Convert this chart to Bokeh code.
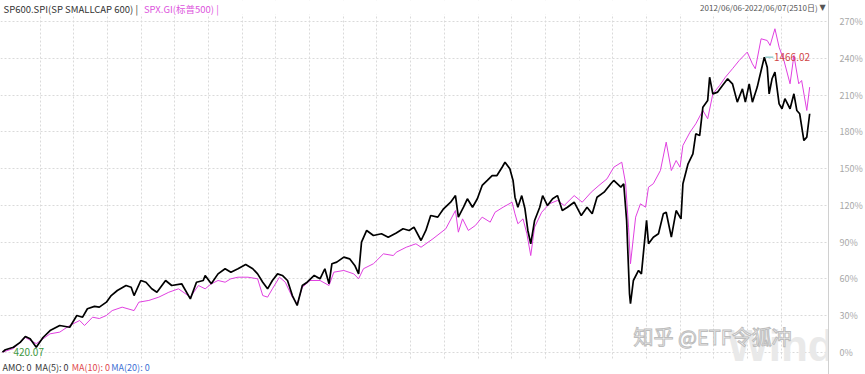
from bokeh.plotting import figure
from bokeh.models import Range1d, FixedTicker, PrintfTickFormatter, Label, BoxAnnotation
from bokeh.embed import file_html
from bokeh.resources import INLINE

# trading-day index (0 = 2012/06/06 ... 2509 = 2022/06/07), cumulative change in %
sp600_day = [0, 9, 34, 55, 71, 86, 105, 126, 148, 178, 209, 231, 249, 264, 286, 301, 323, 338, 357, 384,
             400, 409, 430, 446, 464, 480, 507, 526, 557, 584, 603, 624, 630, 649, 670, 692, 710, 732, 756, 778,
             793, 809, 824, 839, 855, 870, 886, 901, 916, 932, 947, 969, 987, 1002, 1015, 1024, 1039, 1061, 1079, 1095,
             1107, 1116, 1132, 1153, 1178, 1199, 1224, 1245, 1264, 1279, 1301, 1316, 1331, 1353, 1371, 1393, 1408, 1417, 1433, 1445,
             1461, 1476, 1491, 1507, 1522, 1537, 1553, 1562, 1577, 1587, 1593, 1602, 1614, 1624, 1633, 1642, 1654, 1670, 1679, 1694,
             1710, 1725, 1740, 1756, 1777, 1799, 1817, 1833, 1848, 1870, 1891, 1900, 1922, 1931, 1940, 1949, 1952, 1961, 1977, 1986,
             2002, 2008, 2023, 2039, 2054, 2063, 2079, 2094, 2109, 2115, 2131, 2146, 2155, 2167, 2177, 2192, 2198, 2208, 2223, 2238,
             2254, 2269, 2284, 2300, 2309, 2321, 2331, 2346, 2352, 2368, 2377, 2383, 2392, 2401, 2414, 2423, 2432, 2448, 2460, 2469,
             2478, 2491, 2500, 2509]
sp600_pct = [0, 2, 4, 8, 12.8, 11, 4, 12, 17.7, 21.8, 20.4, 30, 28.6, 35.5, 37.4, 36.8, 40.9, 46.3, 50.4, 54.5,
             53.1, 46.3, 58.6, 57.2, 51.8, 49, 58.6, 54.5, 55.9, 43.6, 57.2, 58.6, 62.7, 55.9, 64, 68.2, 65.4, 68.2, 71.7, 68.2,
             64, 57.2, 51.8, 58.6, 64, 62.7, 58.6, 46.3, 38.2, 54.5, 57.2, 62.7, 60, 68.2, 56, 72.3, 73.6, 77.7, 76.3, 70.9,
             64, 90, 99.5, 95.4, 96.8, 94, 97.5, 100.9, 99.5, 102.2, 91.3, 99.5, 111.7, 110.4, 117.2, 122.6, 128, 110.4, 118.5, 125.4,
             118.5, 125.4, 136.3, 140.4, 144.4, 144.4, 151.2, 155.3, 149.9, 140.4, 126.7, 118.5, 128, 117.2, 99.5, 88.6, 107.7, 118.5, 128, 119.9,
             125.4, 128, 115.8, 118.5, 122.6, 111.7, 118.5, 113.1, 126.7, 130.8, 137.7, 140.4, 134.9, 137.7, 107.7, 47.7, 39.6, 58.6, 66.8, 64,
             107.7, 88.6, 94, 96.8, 113.1, 114.4, 94, 115.8, 109, 137.7, 154, 162.2, 178.5, 177.1, 200.3, 205.8, 224.8, 211.2, 212.6, 218,
             223.5, 219.4, 204.4, 215.3, 204.4, 219.4, 204.4, 216.7, 223.5, 241.2, 233, 211.2, 223.5, 229, 203, 199, 207.2, 199, 211.2, 197.6,
             194.9, 173, 175.8, 194.9]

spx_day = [0, 34, 71, 105, 148, 178, 209, 240, 255, 280, 301, 323, 341, 372, 409, 424, 455, 486, 517, 547,
           584, 609, 630, 649, 670, 692, 710, 732, 763, 793, 809, 824, 839, 861, 879, 901, 916, 932, 956, 987,
           1015, 1030, 1061, 1092, 1107, 1122, 1153, 1184, 1215, 1224, 1255, 1285, 1301, 1338, 1378, 1408, 1417, 1430, 1448, 1470,
           1491, 1516, 1531, 1556, 1584, 1593, 1602, 1618, 1630, 1642, 1654, 1676, 1700, 1725, 1746, 1777, 1802, 1830, 1854, 1879,
           1900, 1925, 1937, 1946, 1952, 1968, 1983, 1999, 2008, 2023, 2045, 2063, 2079, 2094, 2106, 2115, 2137, 2155, 2177, 2192,
           2208, 2229, 2247, 2269, 2290, 2315, 2331, 2340, 2358, 2377, 2386, 2401, 2414, 2429, 2448, 2460, 2475, 2484, 2500, 2509]
spx_pct = [0, 3, 12, 7, 15, 16.4, 21.8, 25.9, 21.8, 28.6, 27.5, 30, 34, 36.8, 34, 40.9, 42.3, 45, 49, 51.8,
           45, 54.5, 51.8, 55.9, 58.6, 57.2, 60, 61.3, 61.3, 60, 46.3, 45, 51.8, 61.3, 57.2, 45, 39.6, 53, 58.6, 58.6,
           54.5, 65.4, 66.8, 64, 60, 68.2, 72.3, 80.4, 79, 81.7, 85.8, 88.6, 85.8, 92.7, 100.9, 115.8, 98.1, 109, 99.5, 103.6,
           110.4, 106.3, 114.4, 118.5, 122.6, 113.1, 105, 109, 96.8, 79, 102.2, 114.4, 121.3, 124, 119.9, 128, 122.6, 130.8, 136.3, 141.7,
           151.2, 155.3, 137.7, 102.2, 72.3, 110.4, 121.3, 118.5, 134.9, 137.7, 148.5, 171.7, 148.5, 156.7, 151.2, 169, 179.8, 186.7, 197.6, 190.8,
           211.2, 218, 224.8, 231.7, 238.5, 245.3, 235.7, 231.7, 256.2, 254.8, 250.7, 264.4, 249.3, 238.5, 219.4, 242.6, 219.4, 222.1, 197.6, 216.7]

y_ticks = [0, 30, 60, 90, 120, 150, 180, 210, 240, 270]
sp600_low, sp600_high = "420.07", "1466.02"
title_a = "SP600.SPI(SP SMALLCAP 600) |"
title_b = "SPX.GI(标普500) |"
date_text = "2012/06/06-2022/06/07(2510日)"
footer = [("AMO: 0", "#333333"), ("MA(5): 0", "#333333"), ("MA(10): 0", "#e0474c"), ("MA(20): 0", "#3b6fd4")]

W, H = 865, 374
FR = 837                       # right edge of the frame (axis on the right)
# data <-> canvas mapping: day 0 at px 2, 3.0748 days per px; 0% at py 351.7, 1.2233 px per %
X0, X1 = -6.15, 2567.5
Y0, Y1 = -18.25, 287.5

def cx(px):
    return X0 + px * (X1 - X0) / FR

def cy(py):
    return Y1 - py * (Y1 - Y0) / H

FONT = "Noto Sans CJK SC"

p = figure(width=W, height=H, output_backend="svg", toolbar_location=None,
           x_range=Range1d(X0, X1), y_range=Range1d(Y0, Y1),
           x_axis_location=None, y_axis_location="right",
           min_border_left=0, min_border_right=W - FR, min_border_top=0, min_border_bottom=0)
p.outline_line_color = None
p.background_fill_color = "white"
p.border_fill_color = "white"

ax = p.yaxis[0]
ax.ticker = FixedTicker(ticks=y_ticks)
ax.formatter = PrintfTickFormatter(format="%d%%")
ax.major_tick_line_color = None
ax.minor_tick_line_color = None
ax.axis_line_color = "#d0d0d0"
ax.major_label_text_color = "#a8a8a8"
ax.major_label_text_font_size = "9px"
ax.major_label_text_font = FONT
ax.major_label_standoff = 5

p.ygrid.ticker = FixedTicker(ticks=y_ticks)
p.xgrid.ticker = FixedTicker(ticks=[117 + 104.7 * k for k in range(23)])
for g in (p.xgrid, p.ygrid):
    g.grid_line_color = "#dadada"
    g.grid_line_dash = "2 2"
    g.grid_line_width = 1

# blank header / footer strips over the vertical grid
p.add_layout(BoxAnnotation(bottom=cy(14), fill_color="white", fill_alpha=1, line_color=None, level="underlay"))
p.add_layout(BoxAnnotation(top=cy(359), fill_color="white", fill_alpha=1, line_color=None, level="underlay"))

# watermark
p.add_layout(Label(x=cx(735), y=cy(369), text="Wind", text_font="Liberation Sans", text_font_style="bold",
                   text_font_size="44px", text_color="#e9e9e9", text_baseline="bottom", level="underlay"))
p.add_layout(Label(x=cx(640), y=cy(336), text="知乎 @ETF令狐冲", text_font=FONT,
                   text_font_size="20px", text_color="#ffffff", text_outline_color="#bdbdbd",
                   text_baseline="middle", level="underlay"))

p.line(spx_day, spx_pct, line_color="#e040e0", line_width=1)
p.line(sp600_day, sp600_pct, line_color="#000000", line_width=1.7)

# high / low markers
i_hi = max(range(len(sp600_pct)), key=lambda i: sp600_pct[i])
i_lo = min(range(len(sp600_pct)), key=lambda i: sp600_pct[i])
p.segment(x0=[sp600_day[i_hi] + 3], y0=[sp600_pct[i_hi]], x1=[sp600_day[i_hi] + 28], y1=[sp600_pct[i_hi]],
          line_color="#5fb3b3", line_width=1)
p.add_layout(Label(x=sp600_day[i_hi] + 30, y=sp600_pct[i_hi], text=sp600_high, text_font=FONT,
                   text_font_size="10px", text_color="#d04545", text_baseline="middle"))
p.add_layout(Label(x=sp600_day[i_lo] + 34, y=sp600_pct[i_lo], text=sp600_low, text_font=FONT,
                   text_font_size="10px", text_color="#3f9a3f", text_baseline="middle"))

# header
p.add_layout(Label(x=cx(3), y=cy(8), text=title_a, text_font=FONT, text_font_size="9.5px",
                   text_color="#333333", text_baseline="middle"))
p.add_layout(Label(x=cx(145), y=cy(8), text=title_b, text_font=FONT, text_font_size="9.5px",
                   text_color="#dd55dd", text_baseline="middle"))
p.add_layout(Label(x=cx(826), y=cy(7), text=date_text, text_font=FONT, text_font_size="8px",
                   text_color="#555555", text_baseline="middle", text_align="right"))
p.add_layout(Label(x=cx(828), y=cy(7), text="▼", text_font="DejaVu Sans", text_font_size="8px",
                   text_color="#555555", text_baseline="middle"))

# footer
fx = [2, 35, 72, 112]
for (t, c), px in zip(footer, fx):
    p.add_layout(Label(x=cx(px), y=cy(367), text=t, text_font=FONT, text_font_size="9px",
                       text_color=c, text_baseline="middle"))

open("out.html", "w").write(file_html(p, INLINE))
